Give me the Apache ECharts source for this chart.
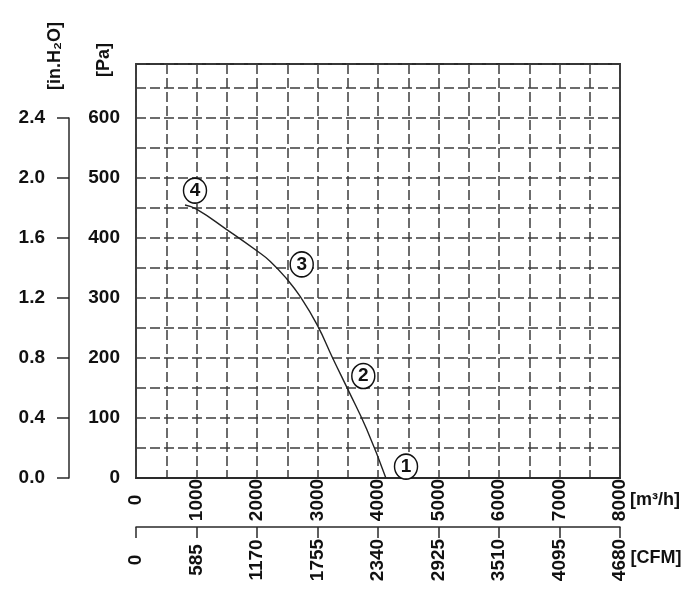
<!DOCTYPE html>
<html>
<head>
<meta charset="utf-8">
<script src="https://cdn.jsdelivr.net/npm/echarts@6/dist/echarts.min.js"></script>
<style>
  html, body { margin: 0; padding: 0; background: #fff; }
  #chart { width: 700px; height: 598px; }
</style>
</head>
<body>
<div id="chart"></div>
<script>
// fan curve
const flowM3h = [810, 1000, 1500, 2020, 2220, 2490, 2710, 2990, 3260, 3510, 3810, 4130];
const pressurePa = [455, 448, 414, 377, 361, 332, 303, 256, 198, 146, 82, 0];

// numbered operating points (circles)
const pointX = [4463, 3757, 2739, 975];
const pointY = [19, 170, 356, 479];
const pointNames = ['1', '2', '3', '4'];

const FONT = '"Liberation Sans", Arial, sans-serif';
const ink = '#111';

var chart = echarts.init(document.getElementById('chart'), null, { renderer: 'canvas' });

var lbl = { color: ink, fontFamily: FONT, fontWeight: 'bold', fontSize: 19 };
var gridLine = { color: '#3c3c3c', width: 1.5, type: [10, 4] };

var option = {
  animation: false,
  backgroundColor: '#fff',
  grid: [
    { left: 136, right: 80, top: 64, bottom: 120, show: true, borderColor: '#2a2a2a', borderWidth: 1.8 },
    // only carries the in.H2O axis
    { left: 69, width: 1, top: 118, bottom: 120 }
  ],
  xAxis: [
    {
      gridIndex: 0, type: 'value', min: 0, max: 8000, interval: 500,
      axisLine: { show: true, lineStyle: { color: '#2a2a2a', width: 1.8 } },
      axisTick: { show: false },
      splitLine: { show: true, lineStyle: gridLine },
      axisLabel: Object.assign({}, lbl, {
        rotate: 90, align: 'center', margin: 22,
        formatter: function (v) { return v % 1000 === 0 ? String(v) : ''; }
      })
    },
    {
      gridIndex: 0, type: 'value', position: 'bottom', offset: 49,
      min: 0, max: 4680, interval: 585,
      axisLine: { show: true, onZero: false, lineStyle: { color: '#2a2a2a', width: 1.5 } },
      axisTick: { show: true, length: 11, lineStyle: { color: '#2a2a2a', width: 1.5 } },
      splitLine: { show: false },
      axisLabel: Object.assign({}, lbl, {
        rotate: 90, align: 'center', margin: 33,
        formatter: function (v) { return String(v); }
      })
    },
    { gridIndex: 1, type: 'value', show: false }
  ],
  yAxis: [
    {
      gridIndex: 0, type: 'value', min: 0, max: 690, interval: 50,
      axisLine: { show: false },
      axisTick: { show: false },
      splitLine: { show: true, lineStyle: gridLine },
      axisLabel: Object.assign({}, lbl, {
        margin: 16,
        formatter: function (v) { return (v % 100 === 0 && v <= 600) ? String(v) : ''; }
      })
    },
    {
      gridIndex: 1, type: 'value', min: 0, max: 2.4, interval: 0.4,
      axisLine: { show: true, lineStyle: { color: '#2a2a2a', width: 1.5 } },
      axisTick: { show: true, length: 12, lineStyle: { color: '#2a2a2a', width: 1.5 } },
      splitLine: { show: false },
      axisLabel: Object.assign({}, lbl, {
        margin: 24,
        formatter: function (v) { return v.toFixed(1); }
      })
    }
  ],
  graphic: [
    { type: 'text', x: 55, y: 56, rotation: Math.PI / 2,
      style: { text: '[in.H\u2082O]', fill: ink, font: 'bold 18px ' + FONT, align: 'center', verticalAlign: 'middle' } },
    { type: 'text', x: 104, y: 60, rotation: Math.PI / 2,
      style: { text: '[Pa]', fill: ink, font: 'bold 18px ' + FONT, align: 'center', verticalAlign: 'middle' } },
    { type: 'text', x: 655, y: 500,
      style: { text: '[m\u00b3/h]', fill: ink, font: 'bold 18px ' + FONT, align: 'center', verticalAlign: 'middle' } },
    { type: 'text', x: 656, y: 558,
      style: { text: '[CFM]', fill: ink, font: 'bold 18px ' + FONT, align: 'center', verticalAlign: 'middle' } }
  ],
  series: [
    {
      type: 'line', xAxisIndex: 0, yAxisIndex: 0,
      data: flowM3h.map(function (x, i) { return [x, pressurePa[i]]; }),
      smooth: 0.5,
      showSymbol: false,
      lineStyle: { color: '#222', width: 1.4 },
      z: 3
    },
    {
      type: 'scatter', xAxisIndex: 0, yAxisIndex: 0,
      data: pointX.map(function (x, i) { return { name: pointNames[i], value: [x, pointY[i]] }; }),
      symbol: 'circle', symbolSize: [23, 25],
      itemStyle: { color: '#fff', borderColor: '#111', borderWidth: 1.5, opacity: 1 },
      label: {
        show: true, position: 'inside', formatter: '{b}',
        color: ink, fontFamily: FONT, fontWeight: 'bold', fontSize: 19
      },
      z: 4
    }
  ]
};

chart.setOption(option);
</script>
</body>
</html>
